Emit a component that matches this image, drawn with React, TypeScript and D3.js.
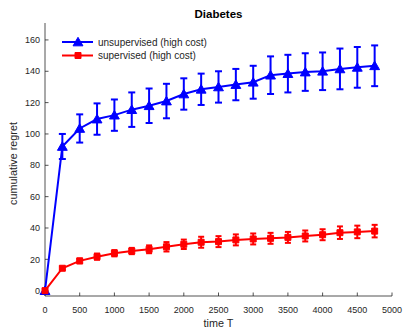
import React from "react";
import * as d3 from "d3";

// time steps (T)
const steps = [0, 250, 500, 750, 1000, 1250, 1500, 1750, 2000, 2250, 2500, 2750, 3000, 3250, 3500, 3750, 4000, 4250, 4500, 4750];

// unsupervised (high cost): mean and error half-width
const unsupMean = [0, 92, 103.5, 109.5, 112, 115.5, 118, 121, 125.5, 128.5, 130, 131.5, 133, 137.5, 138.5, 139.5, 140, 141.5, 142.5, 143.5];
const unsupErr = [0, 8, 9, 10, 10, 11, 11, 11, 10, 10, 10, 10, 10.5, 12, 12, 12, 12, 13, 13, 13];

// supervised (high cost)
const supMean = [0, 14.3, 19, 21.7, 23.9, 25.3, 26.4, 28, 29.6, 30.9, 31.3, 32.4, 33, 33.4, 34, 34.9, 35.7, 37, 37.5, 38];
const supErr = [0, 1, 1.5, 2, 2, 2, 2.5, 3, 3, 3.5, 3.5, 3.5, 3.5, 3.5, 3.5, 3.5, 3.5, 4, 4, 4];

const xTicks = [0, 500, 1000, 1500, 2000, 2500, 3000, 3500, 4000, 4500, 5000];
const yTicks = [0, 20, 40, 60, 80, 100, 120, 140, 160];

const W = 405;
const H = 329;
const margin = { top: 23, right: 13, bottom: 33, left: 45 };
const FONT = "'Liberation Sans', Arial, Helvetica, sans-serif";
const AXIS = "#262626";

type Pt = { t: number; v: number; e: number };

function Series({ data, color, marker, capW, x, y }: { data: Pt[]; color: string; marker: "tri" | "sq"; capW: number; x: d3.ScaleLinear<number, number>; y: d3.ScaleLinear<number, number> }) {
  const line = d3.line<Pt>().x((d) => x(d.t)).y((d) => y(d.v));
  const sym = d3.symbol().type(marker === "tri" ? d3.symbolTriangle : d3.symbolSquare).size(marker === "tri" ? 42 : 36);
  return (
    <g>
      {data.filter((d) => d.e > 0).map((d) => (
        <g key={`e-${d.t}`} stroke={color} strokeWidth={2}>
          <line x1={x(d.t)} x2={x(d.t)} y1={y(d.v - d.e)} y2={y(d.v + d.e)} />
          <line x1={x(d.t) - capW / 2} x2={x(d.t) + capW / 2} y1={y(d.v - d.e)} y2={y(d.v - d.e)} />
          <line x1={x(d.t) - capW / 2} x2={x(d.t) + capW / 2} y1={y(d.v + d.e)} y2={y(d.v + d.e)} />
        </g>
      ))}
      <path d={line(data) || ""} fill="none" stroke={color} strokeWidth={2} />
      {data.map((d) => (
        <path key={`m-${d.t}`} d={sym() || ""} transform={`translate(${x(d.t)},${y(d.v) + (marker === "tri" ? 1 : 0)})`} fill={color} stroke={color} strokeWidth={1} />
      ))}
    </g>
  );
}

export default function App() {
  const x = d3.scaleLinear().domain([0, 5000]).range([margin.left, W - margin.right]);
  const y = d3.scaleLinear().domain([-3.4, 170.8]).range([H - margin.bottom, margin.top]);

  const unsup: Pt[] = steps.map((t, i) => ({ t, v: unsupMean[i], e: unsupErr[i] }));
  const sup: Pt[] = steps.map((t, i) => ({ t, v: supMean[i], e: supErr[i] }));

  const x0 = margin.left;
  const yb = H - margin.bottom;
  const tri = d3.symbol().type(d3.symbolTriangle).size(42)() || "";
  const sq = d3.symbol().type(d3.symbolSquare).size(36)() || "";

  return (
    <>
      <style>{`body{margin:0}`}</style>
      <svg width={W} height={H} style={{ display: "block", fontFamily: FONT }}>
        <rect width={W} height={H} fill="#fff" />
        {/* axes */}
        <g stroke={AXIS} strokeWidth={0.8} fill="none">
          <line x1={x0} x2={x0} y1={margin.top} y2={yb} />
          <line x1={x0} x2={W - margin.right} y1={yb} y2={yb} />
          {xTicks.map((t) => (
            <line key={`xt-${t}`} x1={x(t)} x2={x(t)} y1={yb} y2={yb - 3.5} />
          ))}
          {yTicks.map((t) => (
            <line key={`yt-${t}`} x1={x0} x2={x0 + 3.5} y1={y(t)} y2={y(t)} />
          ))}
        </g>
        <g fontSize={9} fill={AXIS}>
          {xTicks.map((t) => (
            <text key={`xl-${t}`} x={x(t)} y={yb + 17} textAnchor="middle">{t}</text>
          ))}
          {yTicks.map((t) => (
            <text key={`yl-${t}`} x={x0 - 5} y={y(t) + 3.2} textAnchor="end">{t}</text>
          ))}
        </g>
        <text x={(x0 + W - margin.right) / 2} y={H - 2.5} textAnchor="middle" fontSize={10.8} fill={AXIS}>time T</text>
        <text transform={`translate(17,${(margin.top + yb) / 2 + 4}) rotate(-90)`} textAnchor="middle" fontSize={10.8} fill={AXIS}>cumulative regret</text>
        <text x={(x0 + W - margin.right) / 2} y={18} textAnchor="middle" fontSize={11.5} fontWeight="bold" fill="#000">Diabetes</text>

        <Series data={unsup} color="#0000ff" marker="tri" capW={7} x={x} y={y} />
        <Series data={sup} color="#ff0000" marker="sq" capW={6} x={x} y={y} />

        {/* legend */}
        <g>
          <line x1={62} x2={93} y1={42} y2={42} stroke="#0000ff" strokeWidth={2} />
          <path d={tri} transform="translate(78,43)" fill="#0000ff" stroke="#0000ff" />
          <text x={98} y={45.5} fontSize={10} fill={AXIS}>unsupervised (high cost)</text>
          <line x1={62} x2={93} y1={55.5} y2={55.5} stroke="#ff0000" strokeWidth={2} />
          <path d={sq} transform="translate(78,55.5)" fill="#ff0000" stroke="#ff0000" />
          <text x={98} y={59} fontSize={10} fill={AXIS}>supervised (high cost)</text>
        </g>
      </svg>
    </>
  );
}
